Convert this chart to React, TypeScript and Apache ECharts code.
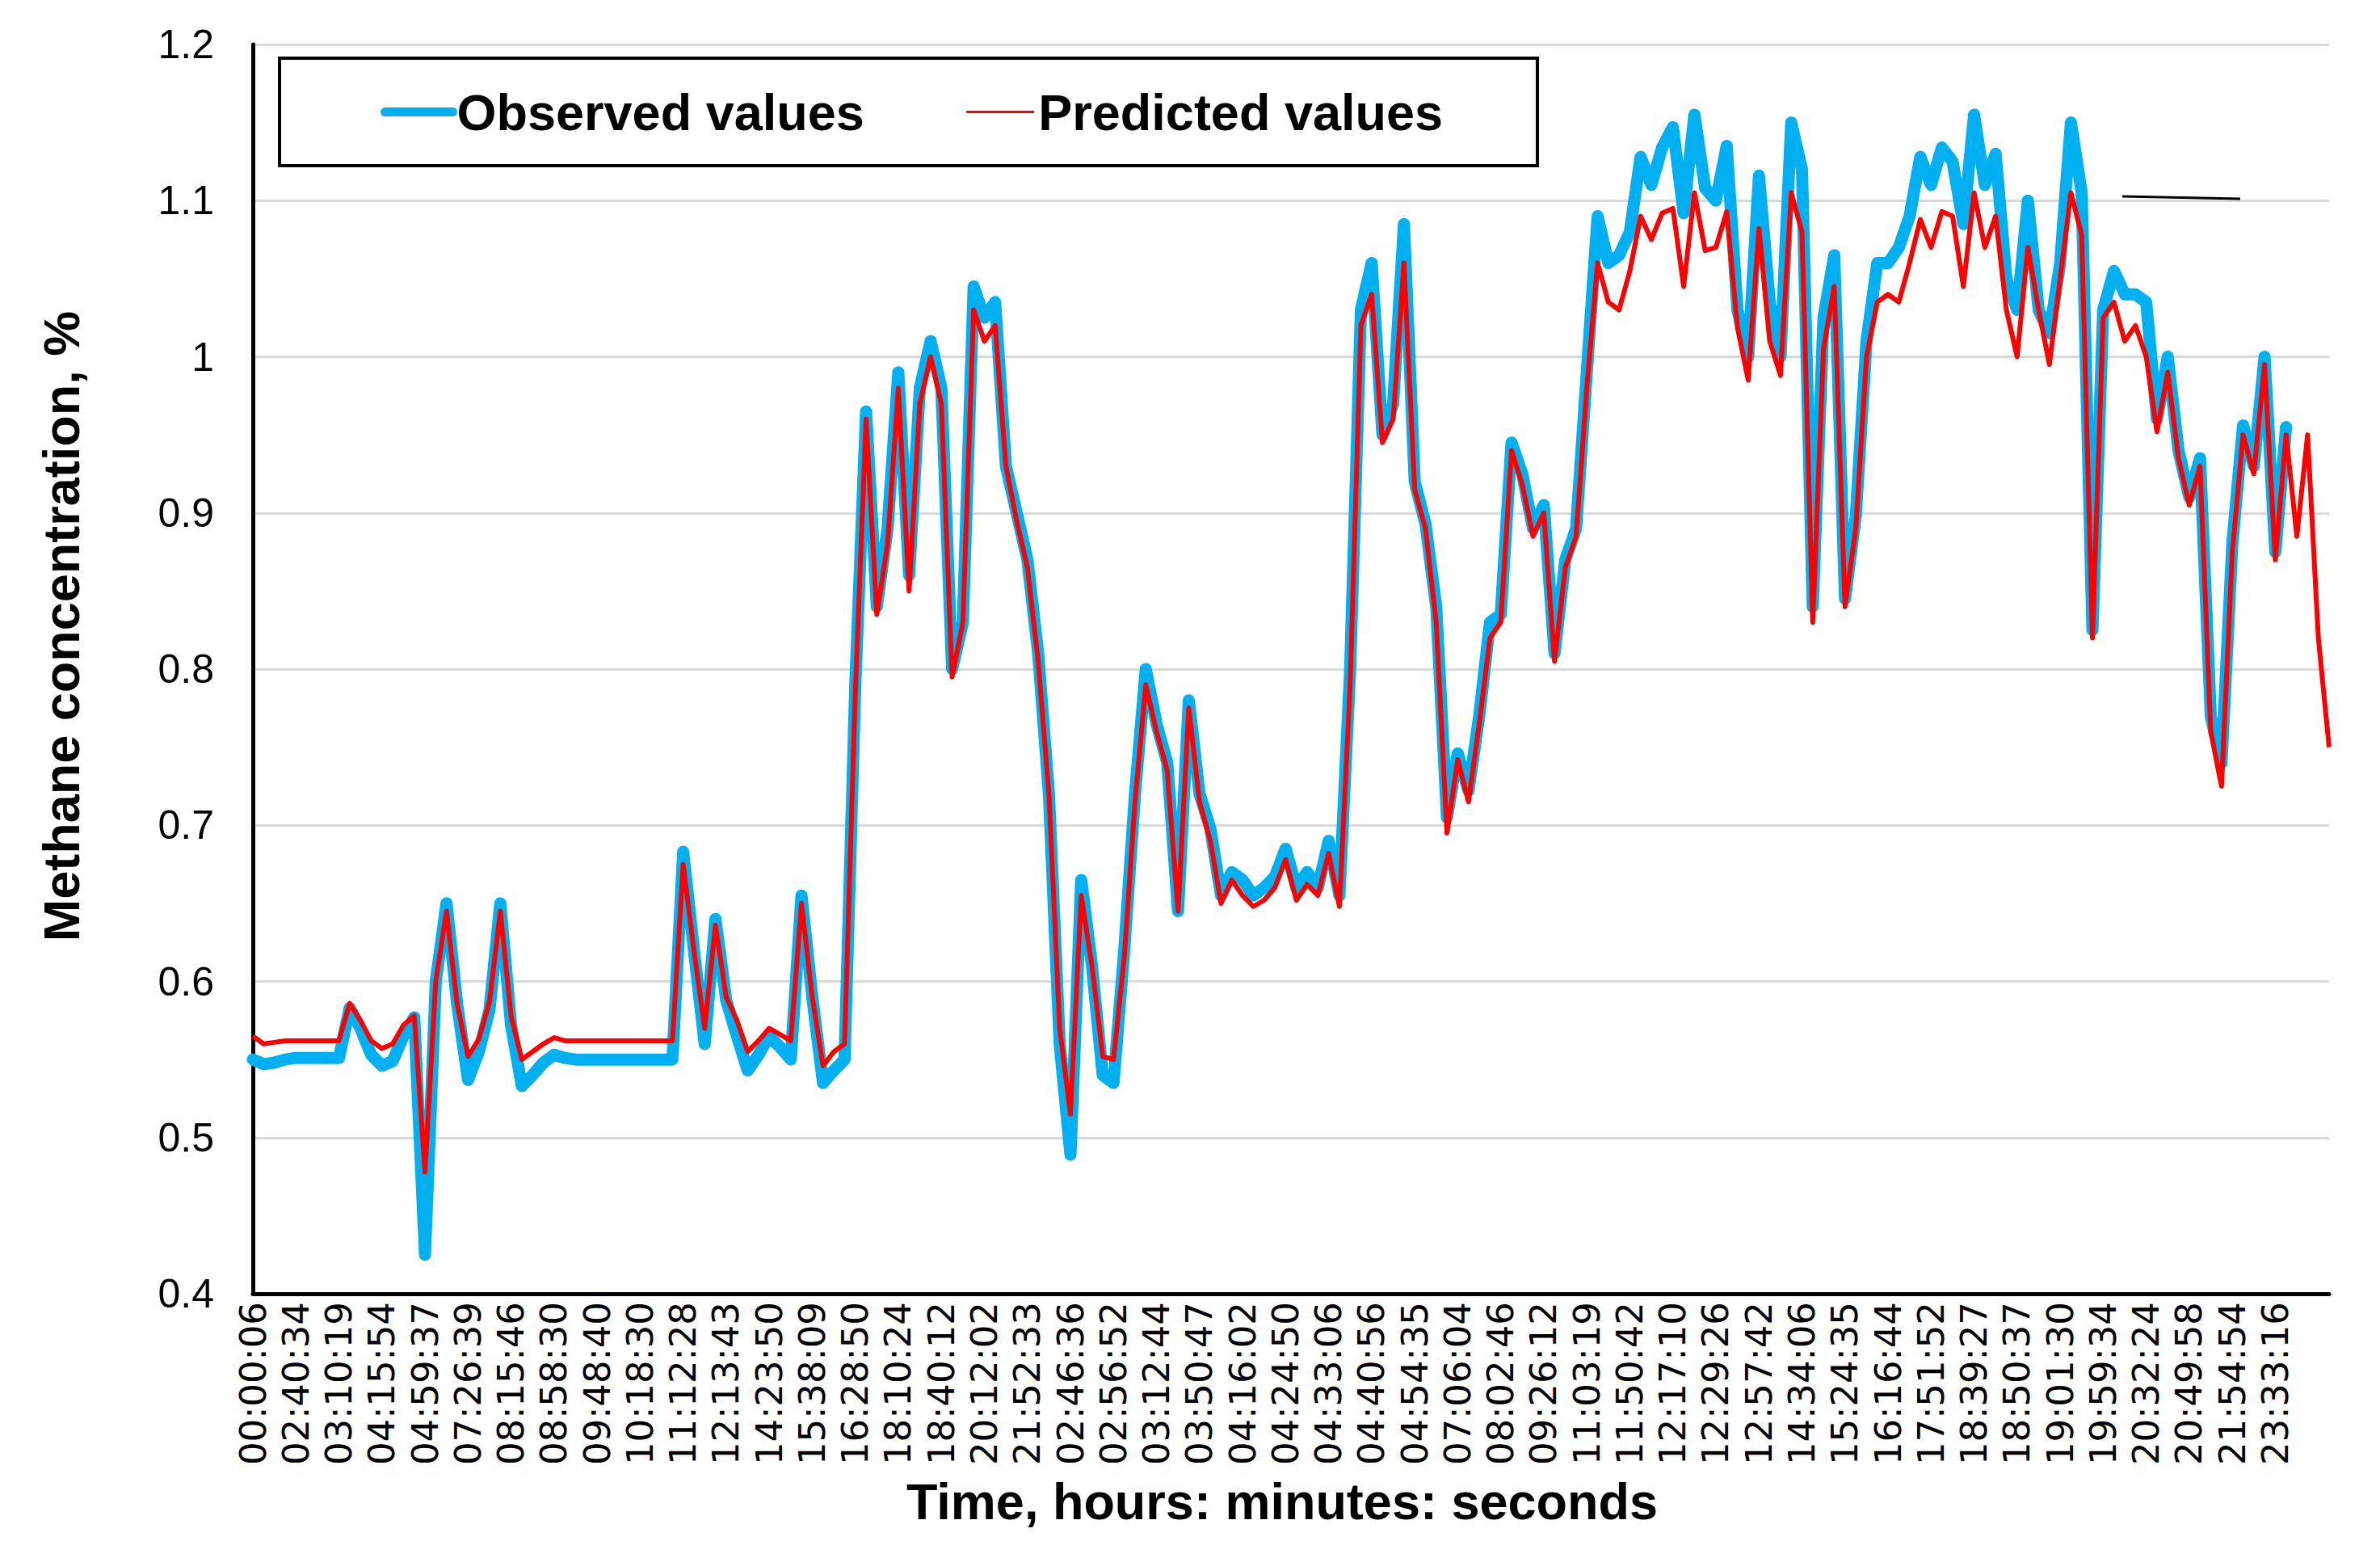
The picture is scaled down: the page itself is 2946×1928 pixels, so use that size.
import React, { useEffect, useRef } from "react";
import * as echarts from "echarts";

const tickLabels = [
  "00:00:06", "02:40:34", "03:10:19", "04:15:54", "04:59:37", "07:26:39", "08:15:46", "08:58:30",
  "09:48:40", "10:18:30", "11:12:28", "12:13:43", "14:23:50", "15:38:09", "16:28:50", "18:10:24",
  "18:40:12", "20:12:02", "21:52:33", "02:46:36", "02:56:52", "03:12:44", "03:50:47", "04:16:02",
  "04:24:50", "04:33:06", "04:40:56", "04:54:35", "07:06:04", "08:02:46", "09:26:12", "11:03:19",
  "11:50:42", "12:17:10", "12:29:26", "12:57:42", "14:34:06", "15:24:35", "16:16:44", "17:51:52",
  "18:39:27", "18:50:37", "19:01:30", "19:59:34", "20:32:24", "20:49:58", "21:54:54", "23:33:16",
];

const POINTS_PER_LABEL = 4;

const observed: (number | null)[] = [
  0.55, 0.547, 0.548, 0.55, 0.551, 0.551, 0.551, 0.551, 0.551, 0.583,
  0.57, 0.553, 0.546, 0.549, 0.565, 0.577, 0.425, 0.6, 0.65, 0.585,
  0.537, 0.555, 0.582, 0.65, 0.572, 0.533, 0.54, 0.548, 0.553, 0.551,
  0.55, 0.55, 0.55, 0.55, 0.55, 0.55, 0.55, 0.55, 0.55, 0.55,
  0.683, 0.62, 0.56, 0.64, 0.588, 0.565, 0.543, 0.553, 0.565, 0.558,
  0.55, 0.655, 0.59, 0.535, 0.543, 0.55, 0.79, 0.965, 0.84, 0.89,
  0.99, 0.86, 0.98, 1.01, 0.98, 0.8, 0.83, 1.045, 1.025, 1.035,
  0.93, 0.9, 0.87, 0.81, 0.72, 0.56, 0.489, 0.665, 0.61, 0.54,
  0.535, 0.62, 0.72, 0.8, 0.765, 0.74, 0.645, 0.78, 0.72, 0.698,
  0.655, 0.67, 0.665, 0.655, 0.66, 0.667, 0.685, 0.66, 0.67, 0.66,
  0.69, 0.655, 0.8, 1.03, 1.06, 0.95, 0.97, 1.085, 0.92, 0.893,
  0.84, 0.705, 0.746, 0.722, 0.77, 0.83, 0.835, 0.945, 0.925, 0.89,
  0.905, 0.81, 0.87, 0.89, 0.99, 1.09, 1.06, 1.065, 1.08, 1.128,
  1.11, 1.134, 1.147, 1.092, 1.155, 1.108, 1.1, 1.135, 1.03, 1.0,
  1.116, 1.035, 1.0, 1.15, 1.12, 0.84, 1.025, 1.065, 0.845, 0.898,
  1.01, 1.06, 1.06, 1.07, 1.09, 1.128, 1.11, 1.134, 1.125, 1.085,
  1.155, 1.11, 1.13, 1.05, 1.03, 1.1, 1.03, 1.015, 1.06, 1.15,
  1.105, 0.825, 1.03, 1.055, 1.04, 1.04, 1.035, 0.96, 1.0, 0.94,
  0.91, 0.935, 0.77, 0.74, 0.88, 0.956, 0.93, 1.0, 0.875, 0.955,
  null, null, null, null,
];

const predicted: number[] = [
  0.565, 0.56, 0.561, 0.562, 0.562, 0.562, 0.562, 0.562, 0.562, 0.586,
  0.575, 0.562, 0.557, 0.56, 0.572, 0.578, 0.478, 0.6, 0.645, 0.585,
  0.552, 0.563, 0.587, 0.645, 0.578, 0.55, 0.555, 0.56, 0.564, 0.562,
  0.562, 0.562, 0.562, 0.562, 0.562, 0.562, 0.562, 0.562, 0.562, 0.562,
  0.675, 0.62, 0.57, 0.636, 0.59, 0.575, 0.555, 0.562, 0.57, 0.566,
  0.562, 0.65, 0.59, 0.546, 0.555, 0.56, 0.785, 0.96, 0.835, 0.88,
  0.98, 0.85, 0.97, 1.0, 0.97, 0.795, 0.83, 1.03, 1.01, 1.02,
  0.93, 0.895, 0.865, 0.805, 0.72, 0.57, 0.515, 0.655, 0.61, 0.552,
  0.55, 0.615, 0.715, 0.79, 0.76, 0.735, 0.645, 0.775, 0.715, 0.69,
  0.65, 0.665, 0.655, 0.648, 0.652, 0.66, 0.678, 0.652, 0.662, 0.655,
  0.682, 0.648, 0.79, 1.02, 1.04, 0.945, 0.96, 1.06, 0.915, 0.89,
  0.83, 0.695, 0.742, 0.715, 0.765, 0.82, 0.83, 0.94, 0.918, 0.885,
  0.9, 0.805, 0.865, 0.885, 0.98, 1.06, 1.035, 1.03, 1.055, 1.09,
  1.075, 1.092, 1.095, 1.045, 1.105, 1.068, 1.07, 1.093, 1.019, 0.985,
  1.082, 1.01, 0.988, 1.105, 1.08, 0.83, 1.005, 1.045, 0.84, 0.89,
  1.0, 1.035, 1.04, 1.035, 1.06, 1.088, 1.07, 1.093, 1.09, 1.045,
  1.105, 1.07, 1.09, 1.03, 1.0, 1.07, 1.03, 0.995, 1.05, 1.105,
  1.078, 0.82, 1.025, 1.035, 1.01, 1.02, 1.0, 0.952, 0.99, 0.935,
  0.905, 0.93, 0.76, 0.725, 0.875, 0.95, 0.925, 0.995, 0.87, 0.95,
  0.885, 0.95, 0.82, 0.75,
];

const categories = predicted.map((_, i) =>
  i % POINTS_PER_LABEL === 0 && tickLabels[i / POINTS_PER_LABEL] ? tickLabels[i / POINTS_PER_LABEL] : `#${i}`
);

export default function App() {
  const ref = useRef<HTMLDivElement>(null);
  useEffect(() => {
    if (!ref.current) return;
    const chart = echarts.init(ref.current, null, { renderer: "svg" });
    chart.setOption({
      animation: false,
      backgroundColor: "#ffffff",
      grid: { left: 313, right: 63, top: 55, bottom: 327, containLabel: false },
      legend: {
        left: 346,
        top: 72,
        orient: "horizontal",
        padding: [35, 117, 35, 125],
        itemGap: 125,
        itemWidth: 84,
        itemHeight: 4,
        borderColor: "#000",
        borderWidth: 4,
        selectedMode: false,
        textStyle: { fontFamily: "Liberation Sans", fontWeight: "bold", fontSize: 63, color: "#000" },
        data: [
          { name: "Observed values", lineStyle: { width: 11, cap: "round" }, itemStyle: { opacity: 0 } },
          { name: "Predicted values", lineStyle: { width: 3 }, itemStyle: { opacity: 0 } },
        ],
      },
      xAxis: {
        type: "category",
        data: categories,
        boundaryGap: false,
        axisLine: { lineStyle: { color: "#000", width: 5 } },
        axisTick: { show: false },
        axisLabel: {
          interval: POINTS_PER_LABEL - 1,
          rotate: 90,
          margin: 10,
          fontFamily: "DejaVu Sans",
          fontSize: 45,
          color: "#000",
          formatter: (v: string) => (v.startsWith("#") ? "" : v),
        },
        splitLine: { show: false },
        name: "Time, hours: minutes: seconds",
        nameLocation: "middle",
        nameGap: 225,
        nameTextStyle: {
          fontFamily: "Liberation Sans",
          fontWeight: "bold",
          fontSize: 63,
          color: "#000",
          padding: [0, 22, 0, 0],
        },
      },
      yAxis: {
        type: "value",
        min: 0.4,
        max: 1.2,
        interval: 0.1,
        axisLine: { show: true, lineStyle: { color: "#000", width: 5 } },
        axisTick: { show: false },
        axisLabel: {
          margin: 48,
          fontFamily: "Liberation Sans",
          fontSize: 50,
          color: "#000",
          formatter: (v: number) => String(Math.round(v * 10) / 10),
        },
        splitLine: { lineStyle: { color: "#d9d9d9", width: 3 } },
        name: "Methane concentration, %",
        nameLocation: "middle",
        nameGap: 206,
        nameRotate: 90,
        nameTextStyle: {
          fontFamily: "Liberation Sans",
          fontWeight: "bold",
          fontSize: 63,
          color: "#000",
          padding: [0, 0, 0, 106],
        },
      },
      series: [
        {
          type: "line",
          name: "Observed values",
          data: observed,
          symbol: "none",
          connectNulls: false,
          lineStyle: { color: "#00b0f0", width: 15, cap: "round", join: "round" },
          itemStyle: { color: "#00b0f0" },
          z: 2,
        },
        {
          type: "line",
          name: "Predicted values",
          data: predicted,
          symbol: "none",
          lineStyle: { color: "#ff0000", width: 6, join: "round" },
          itemStyle: { color: "#ff0000" },
          z: 3,
        },
      ],
      graphic: [
        {
          type: "line",
          shape: { x1: 2627, y1: 243, x2: 2773, y2: 246 },
          style: { stroke: "#000", lineWidth: 3 },
          z: 10,
        },
      ],
    });
    return () => chart.dispose();
  }, []);
  return (
    <div
      ref={ref}
      style={{ position: "fixed", left: 0, top: 0, width: "2946px", height: "1928px", background: "#fff" }}
    />
  );
}
